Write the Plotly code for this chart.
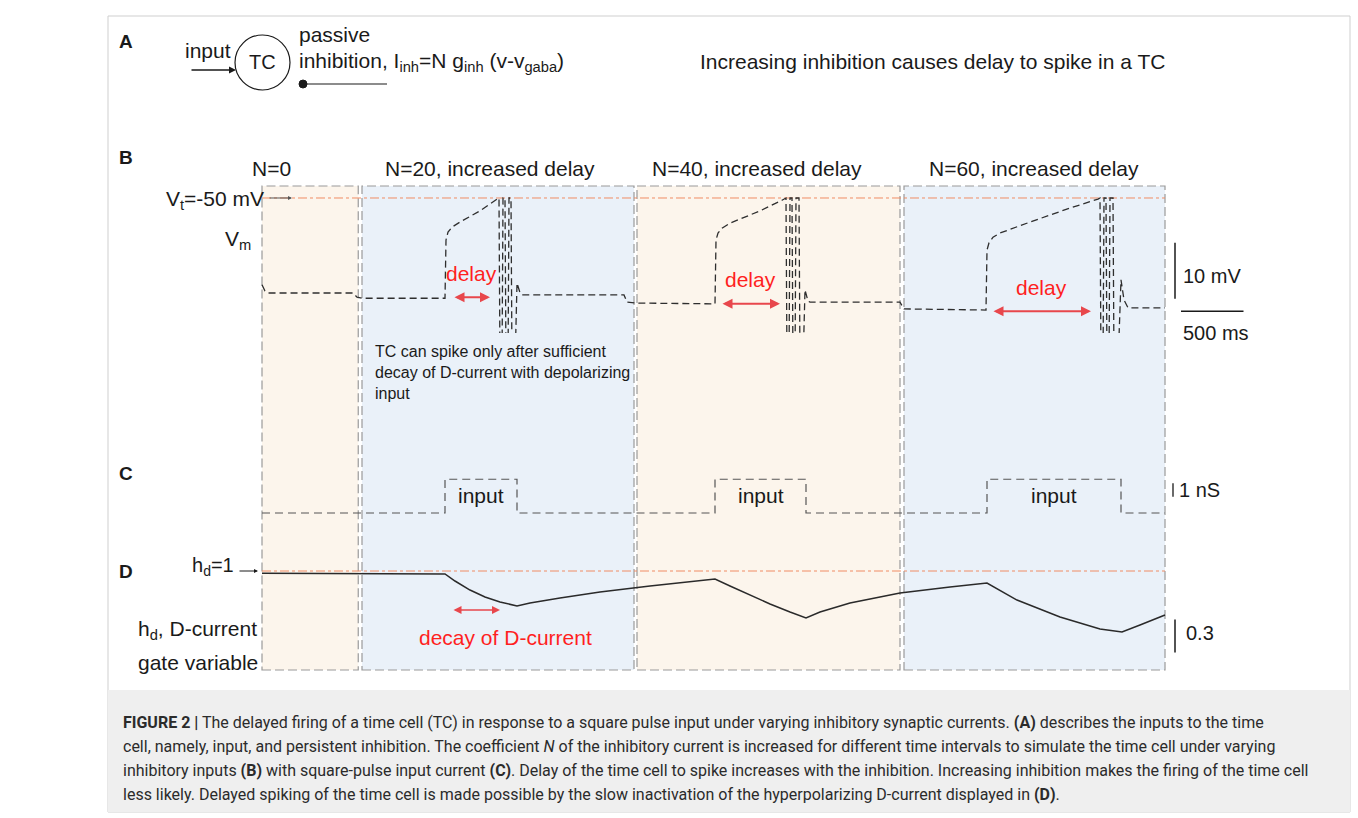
import plotly.graph_objects as go

W, H = 1358, 818

# ---------------- data ----------------
# membrane potential of the time cell (time in ms, V_m in mV)
vm_t = [0, 24, 48, 728, 760, 800,
        1464, 1472, 1488, 1520, 1584, 1744, 1880,
        1896, 1904, 1920, 1928, 1944, 1952, 1968, 1976, 1992, 2000, 2024, 2040, 2064, 2080,
        2896, 2920, 3000,
        3624, 3632, 3648, 3680, 3744, 3984, 4160,
        4192, 4200, 4216, 4224, 4240, 4248, 4264, 4272, 4296, 4304, 4328, 4344, 4368, 4384,
        5104, 5136,
        5792, 5800, 5816, 5848, 5904, 6144, 6464, 6688,
        6704, 6712, 6728, 6736, 6752, 6760, 6776, 6784, 6808, 6816, 6848, 6872, 6896, 6928,
        7224]
vm_mV = [-65.5, -66.6, -66.96, -66.96, -67.7, -67.9,
         -67.9, -57.5, -56.1, -55.2, -54.3, -52.3, -50.2,
         -50.0, -80, -80, -50.0, -50.0, -80, -80, -50.0, -50.0, -80, -80, -65.2, -66.9, -67.3,
         -67.3, -68.6, -68.75,
         -68.9, -57.5, -56.25, -55.4, -54.5, -52.3, -50.4,
         -50.0, -80, -80, -50.0, -50.0, -80, -80, -50.0, -50.0, -80, -80, -66.4, -68.4, -68.6,
         -68.6, -69.8,
         -70.0, -59.3, -58.0, -57.0, -56.25, -54.3, -51.8, -50.2,
         -50.0, -80, -80, -50.0, -50.0, -80, -80, -50.0, -50.0, -80, -80, -64.6, -68.2, -69.6,
         -69.6]

v_threshold_mV = -50

# square-pulse input conductance (nS)
pulse_on_ms = [1464, 3624, 5800]
pulse_off_ms = [2040, 4352, 6872]
pulse_amp_nS = 2.5
sim_end_ms = 7224

# D-current inactivation gate h_d
hd_t = [0, 1464, 1544, 1664, 1784, 1904, 2040, 2144, 2384, 2704, 3104, 3504, 3624,
        3744, 3904, 4064, 4224, 4352, 4464, 4704, 4944, 5104, 5504, 5800,
        6040, 6384, 6704, 6880, 7024, 7224]
hd_val = [0.98, 0.973, 0.909, 0.827, 0.764, 0.718, 0.682, 0.709, 0.755, 0.809, 0.864, 0.909, 0.927,
          0.864, 0.782, 0.700, 0.627, 0.573, 0.627, 0.709, 0.764, 0.800, 0.855, 0.891,
          0.736, 0.582, 0.473, 0.445, 0.509, 0.600]

# inhibition blocks (coefficient N)
block_start_ms = [0, 800, 3000, 5136]
block_end_ms = [770, 2976, 5104, 7224]
block_label_ms = [72, 1824, 3960, 6176]
block_labels = ["N=0", "N=20, increased delay", "N=40, increased delay", "N=60, increased delay"]

# delay from input onset to first spike
delay_start_ms = [1528, 3672, 5840]
delay_end_ms = [1824, 4144, 6632]
delay_level_mV = [-67.7, -68.9, -70.2]

# ---------------- helpers ----------------
def px(x):
    return x / W


def py(y):
    return 1 - y / H


X_RANGE = [-2096, 8768]   # 8 ms per pixel, t=0 at x=262
FONT = "Liberation Sans"
INK = "#1a1a1a"
RED = "#ff1f1f"
ARROW_RED = "#e8474c"
ORANGE = "#f08c64"
PEACH = "#fcf5ec"
BLUE = "#eaf1f9"

fig = go.Figure()

# input conductance step series built from pulse on/off times
g_t, g_v = [0], [0]
for on, off in zip(pulse_on_ms, pulse_off_ms):
    g_t += [on, on, off, off]
    g_v += [0, pulse_amp_nS, pulse_amp_nS, 0]
g_t.append(sim_end_ms)
g_v.append(0)

# ---- panel B: membrane potential ----
fig.add_trace(go.Scatter(x=[0, sim_end_ms], y=[v_threshold_mV, v_threshold_mV], mode="lines",
                         line=dict(color=ORANGE, width=1, dash="dashdot"),
                         xaxis="x", yaxis="y", hoverinfo="skip"))
fig.add_trace(go.Scatter(x=vm_t, y=vm_mV, mode="lines",
                         line=dict(color="#2e2e2e", width=1.3, dash="7px,4px"),
                         xaxis="x", yaxis="y"))
# scale bars 10 mV / 500 ms
fig.add_trace(go.Scatter(x=[7304, 7304], y=[-58, -68], mode="lines",
                         line=dict(color=INK, width=1.5), xaxis="x", yaxis="y"))
fig.add_trace(go.Scatter(x=[7352, 7852], y=[-70.2, -70.2], mode="lines",
                         line=dict(color=INK, width=1.5), xaxis="x", yaxis="y"))

# ---- panel C: input ----
fig.add_trace(go.Scatter(x=g_t, y=g_v, mode="lines",
                         line=dict(color="#555555", width=1.2, dash="8px,5px"),
                         xaxis="x2", yaxis="y2"))
fig.add_trace(go.Scatter(x=[7288, 7288], y=[1.2, 2.2], mode="lines",
                         line=dict(color=INK, width=1.3), xaxis="x2", yaxis="y2"))

# ---- panel D: h_d ----
fig.add_trace(go.Scatter(x=[0, sim_end_ms], y=[1, 1], mode="lines",
                         line=dict(color=ORANGE, width=1, dash="dashdot"),
                         xaxis="x3", yaxis="y3"))
fig.add_trace(go.Scatter(x=hd_t, y=hd_val, mode="lines",
                         line=dict(color="#2a2a2a", width=1.5),
                         xaxis="x3", yaxis="y3"))
fig.add_trace(go.Scatter(x=[7304, 7304], y=[0.56, 0.26], mode="lines",
                         line=dict(color=INK, width=1.5), xaxis="x3", yaxis="y3"))

shapes = []
# figure frame and caption background
shapes.append(dict(type="rect", xref="paper", yref="paper", x0=px(108), x1=px(1350),
                   y0=py(812), y1=py(16), line=dict(color="#cfcfcf", width=1),
                   fillcolor="white", layer="below"))
shapes.append(dict(type="rect", xref="paper", yref="paper", x0=px(108), x1=px(1350),
                   y0=py(812), y1=py(690), line=dict(width=0),
                   fillcolor="#efefef", layer="below"))

# inhibition blocks
for i, (s, e) in enumerate(zip(block_start_ms, block_end_ms)):
    shapes.append(dict(type="rect", xref="x", yref="paper", x0=s, x1=e,
                       y0=py(670), y1=py(186),
                       fillcolor=PEACH if i % 2 == 0 else BLUE,
                       line=dict(color="#9a9a9a", width=1.2, dash="9px,4px"), layer="below"))

# panel A schematic
shapes.append(dict(type="circle", xref="paper", yref="paper", x0=px(235), x1=px(290),
                   y0=py(90), y1=py(35), line=dict(color=INK, width=1.2)))
shapes.append(dict(type="line", xref="paper", yref="paper", x0=px(303), x1=px(387),
                   y0=py(84), y1=py(84), line=dict(color=INK, width=1.2)))
shapes.append(dict(type="circle", xref="paper", yref="paper", x0=px(299), x1=px(307),
                   y0=py(88), y1=py(80), fillcolor=INK, line=dict(color=INK, width=1)))

ann = []


def text(x, y, s, size=21, color=INK, anchor="center", **kw):
    d = dict(x=px(x), y=py(y), xref="paper", yref="paper", text=s, showarrow=False,
             xanchor=anchor, yanchor="middle", font=dict(family=FONT, size=size, color=color))
    d.update(kw)
    ann.append(d)


# panel letters
for letter, y in zip("ABCD", [42, 158, 474, 571]):
    text(126, y, "<b>%s</b>" % letter, size=19)

# panel A
text(208, 50, "input", size=21)
ann.append(dict(x=px(236), y=py(70), xref="paper", yref="paper", ax=-46, ay=0, text="",
                showarrow=True, arrowhead=2, arrowsize=1, arrowwidth=1.4, arrowcolor=INK))
text(262, 62, "TC", size=20)
text(297, 35, "passive", size=21, anchor="left")
text(297, 62, "inhibition, I<sub>inh</sub>=N g<sub>inh</sub> (v-v<sub>gaba</sub>)", size=21, anchor="left")
text(698, 62, "Increasing inhibition causes delay to spike in a TC", size=21, anchor="left")

# panel B labels
for xc, lab in zip(block_label_ms, block_labels):
    ann.append(dict(x=xc, y=py(168), xref="x", yref="paper", text=lab, showarrow=False,
                    xanchor="center", yanchor="middle", font=dict(family=FONT, size=21, color=INK)))
text(266, 200, "V<sub>t</sub>=-50 mV", size=21, anchor="right")
text(253, 240, "V<sub>m</sub>", size=21, anchor="right")
ann.append(dict(x=240, y=v_threshold_mV, xref="x", yref="y", ax=-24, ay=0, text="",
                showarrow=True, arrowhead=2, arrowsize=0.8, arrowwidth=1, arrowcolor="#555555"))
for s, e, lvl in zip(delay_start_ms, delay_end_ms, delay_level_mV):
    ann.append(dict(x=e, y=lvl, xref="x", yref="y", ax=s, ay=lvl, axref="x", ayref="y",
                    text="", showarrow=True, arrowhead=2, startarrowhead=2, arrowside="end+start",
                    arrowsize=1, startarrowsize=1, arrowwidth=2, arrowcolor=ARROW_RED))
    ann.append(dict(x=(s + e) / 2, y=lvl + 4.3, xref="x", yref="y", text="delay", showarrow=False,
                    xanchor="center", yanchor="middle", font=dict(family=FONT, size=21, color=RED)))
ann.append(dict(x=7352, y=-63.9, xref="x", yref="y", text="10 mV", showarrow=False,
                xanchor="left", yanchor="middle", font=dict(family=FONT, size=20, color=INK)))
ann.append(dict(x=7352, y=-74.1, xref="x", yref="y", text="500 ms", showarrow=False,
                xanchor="left", yanchor="middle", font=dict(family=FONT, size=20, color=INK)))
text(373, 372, "TC can spike only after sufficient<br>decay of D-current with depolarizing<br>input",
     size=16, anchor="left", align="left")

# panel C labels
for on, off in zip(pulse_on_ms, pulse_off_ms):
    ann.append(dict(x=(on + off) / 2, y=1.26, xref="x2", yref="y2", text="input", showarrow=False,
                    xanchor="center", yanchor="middle", font=dict(family=FONT, size=21, color=INK)))
ann.append(dict(x=7320, y=1.7, xref="x2", yref="y2", text="1 nS", showarrow=False,
                xanchor="left", yanchor="middle", font=dict(family=FONT, size=20, color=INK)))

# panel D labels
text(236, 566, "h<sub>d</sub>=1", size=20, anchor="right")
ann.append(dict(x=-32, y=1.0, xref="x3", yref="y3", ax=-20, ay=0, text="",
                showarrow=True, arrowhead=2, arrowsize=0.8, arrowwidth=1, arrowcolor=INK))
text(136, 630, "h<sub>d</sub>, D-current", size=21, anchor="left")
text(136, 662, "gate variable", size=21, anchor="left")
ann.append(dict(x=1904, y=0.645, xref="x3", yref="y3", ax=1520, ay=0.645, axref="x3", ayref="y3",
                text="", showarrow=True, arrowhead=2, startarrowhead=2, arrowside="end+start",
                arrowsize=1, startarrowsize=1, arrowwidth=1.6, arrowcolor=ARROW_RED))
text(505, 637, "decay of D-current", size=21, color=RED)
ann.append(dict(x=7376, y=0.436, xref="x3", yref="y3", text="0.3", showarrow=False,
                xanchor="left", yanchor="middle", font=dict(family=FONT, size=20, color=INK)))

# caption
caption = [
    "<b>FIGURE 2 |</b> The delayed firing of a time cell (TC) in response to a square pulse input under varying inhibitory synaptic currents. <b>(A)</b> describes the inputs to the time",
    "cell, namely, input, and persistent inhibition. The coefficient <i>N</i> of the inhibitory current is increased for different time intervals to simulate the time cell under varying",
    "inhibitory inputs <b>(B)</b> with square-pulse input current <b>(C)</b>. Delay of the time cell to spike increases with the inhibition. Increasing inhibition makes the firing of the time cell",
    "less likely. Delayed spiking of the time cell is made possible by the slow inactivation of the hyperpolarizing D-current displayed in <b>(D)</b>.",
]
for i, line in enumerate(caption):
    ann.append(dict(x=px(121), y=py(722 + 24 * i), xref="paper", yref="paper", text=line,
                    showarrow=False, xanchor="left", yanchor="middle",
                    font=dict(family="Roboto", size=16, color="#2b2b2b")))

hidden = dict(visible=False, showgrid=False, zeroline=False, fixedrange=True)
fig.update_layout(
    width=W, height=H, margin=dict(l=0, r=0, t=0, b=0),
    paper_bgcolor="white", plot_bgcolor="rgba(0,0,0,0)", showlegend=False,
    xaxis=dict(domain=[0, 1], range=X_RANGE, anchor="y", **hidden),
    xaxis2=dict(domain=[0, 1], range=X_RANGE, anchor="y2", **hidden),
    xaxis3=dict(domain=[0, 1], range=X_RANGE, anchor="y3", **hidden),
    yaxis=dict(domain=[py(333), py(186)], range=[-74.1, -47.86], anchor="x", **hidden),
    yaxis2=dict(domain=[py(525), py(470)], range=[-0.889, 3.185], anchor="x2", **hidden),
    yaxis3=dict(domain=[py(660), py(560)], range=[0.191, 1.1], anchor="x3", **hidden),
    shapes=shapes, annotations=ann,
)

fig.write_html("out.html")
